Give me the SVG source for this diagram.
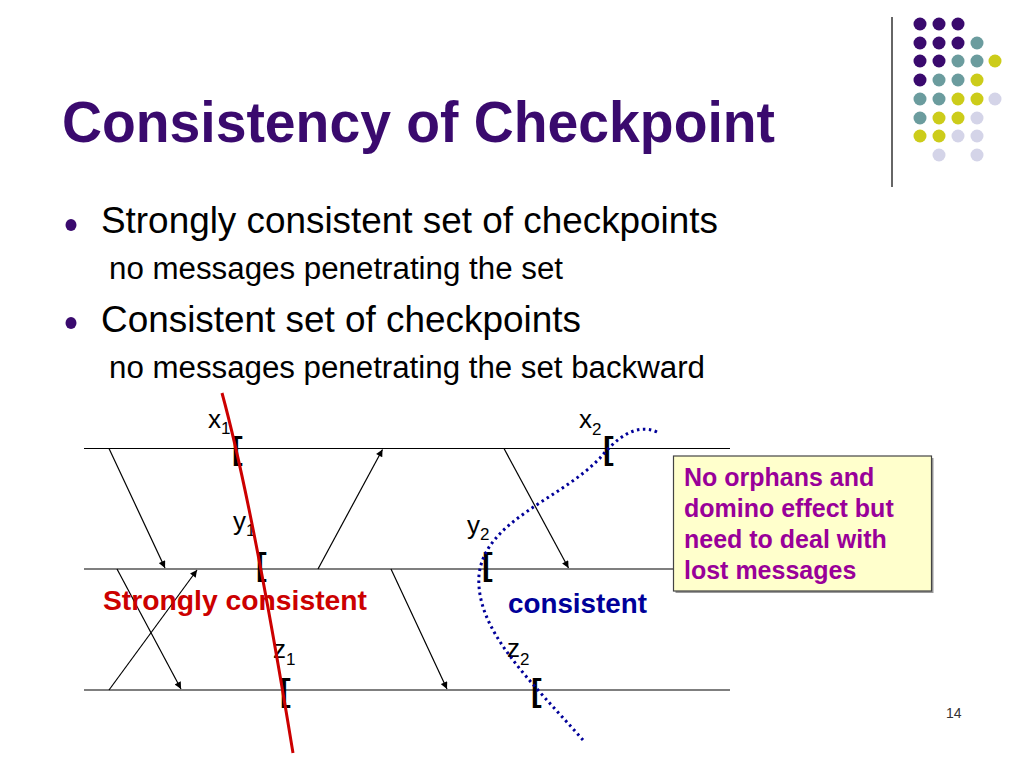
<svg xmlns="http://www.w3.org/2000/svg" width="1024" height="768" viewBox="0 0 1024 768">
<defs>
<style>
.t{font-family:"Liberation Sans",Arial,sans-serif;}
.title{font-size:58px;font-weight:bold;fill:#3A0A6E;}
.b1{font-size:36px;fill:#000;}
.b2{font-size:31px;fill:#000;}
.lbl{font-size:26px;fill:#000;}
.sub{font-size:17px;}
.brk{font-size:32px;font-weight:bold;fill:#000;}
.tl{stroke:#000;stroke-width:1.2;fill:none;}
.msg{stroke:#000;stroke-width:1.2;fill:none;marker-end:url(#ah);}
.dp{fill:#3A0A6E;}.dt{fill:#6B9C9E;}.dy{fill:#CCCC1A;}.dl{fill:#D4D4E8;}
</style>
<marker id="ah" viewBox="0 0 10 10" refX="10" refY="5" markerWidth="9" markerHeight="7" markerUnits="userSpaceOnUse" orient="auto">
<path d="M0,0 L10,5 L0,10 z" fill="#000"/>
</marker>
</defs>
<rect width="1024" height="768" fill="#fff"/>

<g id="decor">
<line x1="892" y1="17" x2="892" y2="187" stroke="#333" stroke-width="1.5"/>
<circle class="dp" cx="920" cy="24" r="6.5"/><circle class="dp" cx="939" cy="24" r="6.5"/><circle class="dp" cx="958" cy="24" r="6.5"/>
<circle class="dp" cx="920" cy="43" r="6.5"/><circle class="dp" cx="939" cy="43" r="6.5"/><circle class="dp" cx="958" cy="43" r="6.5"/><circle class="dt" cx="977" cy="43" r="6.5"/>
<circle class="dp" cx="920" cy="61" r="6.5"/><circle class="dp" cx="939" cy="61" r="6.5"/><circle class="dt" cx="958" cy="61" r="6.5"/><circle class="dt" cx="977" cy="61" r="6.5"/><circle class="dy" cx="995" cy="61" r="6.5"/>
<circle class="dp" cx="920" cy="80" r="6.5"/><circle class="dt" cx="939" cy="80" r="6.5"/><circle class="dt" cx="958" cy="80" r="6.5"/><circle class="dy" cx="977" cy="80" r="6.5"/>
<circle class="dt" cx="920" cy="99" r="6.5"/><circle class="dt" cx="939" cy="99" r="6.5"/><circle class="dy" cx="958" cy="99" r="6.5"/><circle class="dy" cx="977" cy="99" r="6.5"/><circle class="dl" cx="995" cy="99" r="6.5"/>
<circle class="dt" cx="920" cy="118" r="6.5"/><circle class="dy" cx="939" cy="118" r="6.5"/><circle class="dy" cx="958" cy="118" r="6.5"/><circle class="dl" cx="977" cy="118" r="6.5"/>
<circle class="dy" cx="920" cy="136" r="6.5"/><circle class="dy" cx="939" cy="136" r="6.5"/><circle class="dl" cx="958" cy="136" r="6.5"/><circle class="dl" cx="977" cy="136" r="6.5"/>
<circle class="dl" cx="939" cy="155" r="6.5"/><circle class="dl" cx="977" cy="155" r="6.5"/>
</g>

<g id="title">
<text class="t title" x="62" y="141.5" textLength="713" lengthAdjust="spacingAndGlyphs">Consistency of Checkpoint</text>
</g>

<g id="bullets">
<ellipse cx="71" cy="225" rx="5.5" ry="6" fill="#3A0A6E"/>
<text class="t b1" x="101" y="233" textLength="617" lengthAdjust="spacingAndGlyphs">Strongly consistent set of checkpoints</text>
<text class="t b2" x="109" y="279" textLength="454" lengthAdjust="spacingAndGlyphs">no messages penetrating the set</text>
<ellipse cx="71" cy="323" rx="5.5" ry="6" fill="#3A0A6E"/>
<text class="t b1" x="101" y="332" textLength="480" lengthAdjust="spacingAndGlyphs">Consistent set of checkpoints</text>
<text class="t b2" x="109" y="378" textLength="596" lengthAdjust="spacingAndGlyphs">no messages penetrating the set backward</text>
</g>

<g id="timelines">
<line class="tl" x1="84" y1="448.5" x2="730" y2="448.5"/>
<line class="tl" x1="84" y1="569" x2="730" y2="569"/>
<line class="tl" x1="84" y1="690" x2="730" y2="690"/>
</g>

<g id="connectors">
<line class="msg" x1="109" y1="448.5" x2="165" y2="568"/>
<line class="msg" x1="318" y1="569" x2="382.5" y2="449.5"/>
<line class="msg" x1="117" y1="569" x2="181" y2="689"/>
<line class="msg" x1="109" y1="690" x2="197" y2="570"/>
<line class="msg" x1="391" y1="569" x2="447" y2="689"/>
<line class="msg" x1="504" y1="448.5" x2="568.5" y2="568"/>
</g>

<g id="labels">
<text class="t lbl" x="208" y="428">x<tspan class="sub" dy="6">1</tspan></text>
<text class="t lbl" x="233" y="530">y<tspan class="sub" dy="6">1</tspan></text>
<text class="t lbl" x="273" y="658">z<tspan class="sub" dy="7">1</tspan></text>
<text class="t lbl" x="579" y="428">x<tspan class="sub" dy="7">2</tspan></text>
<text class="t lbl" x="467" y="534">y<tspan class="sub" dy="6">2</tspan></text>
<text class="t lbl" x="507" y="657">z<tspan class="sub" dy="8">2</tspan></text>
</g>

<g id="checkpoints">
<text class="t brk" x="232" y="459">[</text>
<text class="t brk" x="256" y="575">[</text>
<text class="t brk" x="280" y="701">[</text>
<text class="t brk" x="603" y="459">[</text>
<text class="t brk" x="482" y="575">[</text>
<text class="t brk" x="531" y="701">[</text>
</g>

<g id="strong-label">
<text class="t" x="103" y="610" font-size="27" font-weight="bold" fill="#CC0000" textLength="264" lengthAdjust="spacingAndGlyphs">Strongly consistent</text>
</g>
<g id="consistent-label">
<text class="t" x="508" y="613" font-size="27" font-weight="bold" fill="#000099" textLength="139" lengthAdjust="spacingAndGlyphs">consistent</text>
</g>

<g id="strong-cut">
<path d="M222 393 C243 470 268 600 293 753" fill="none" stroke="#CC0000" stroke-width="3"/>
</g>
<g id="consistent-cut">
<path d="M657 432 C635 422 615 440 600 458 C560 500 485 520 479 575 C475 630 530 680 583 740" fill="none" stroke="#000099" stroke-width="3" stroke-dasharray="2.5 3.5"/>
</g>

<g id="note">
<rect x="675.5" y="458" width="258" height="135" fill="#999"/>
<rect x="673.5" y="456" width="258" height="135" fill="#FFFFCC" stroke="#444" stroke-width="1.2"/>
<text class="t" font-size="25" font-weight="bold" fill="#990099">
<tspan x="684" y="486">No orphans and</tspan>
<tspan x="684" y="517">domino effect but</tspan>
<tspan x="684" y="548">need to deal with</tspan>
<tspan x="684" y="579">lost messages</tspan>
</text>
</g>

<g id="page">
<text class="t" x="946" y="718" font-size="14" fill="#333">14</text>
</g>
</svg>
